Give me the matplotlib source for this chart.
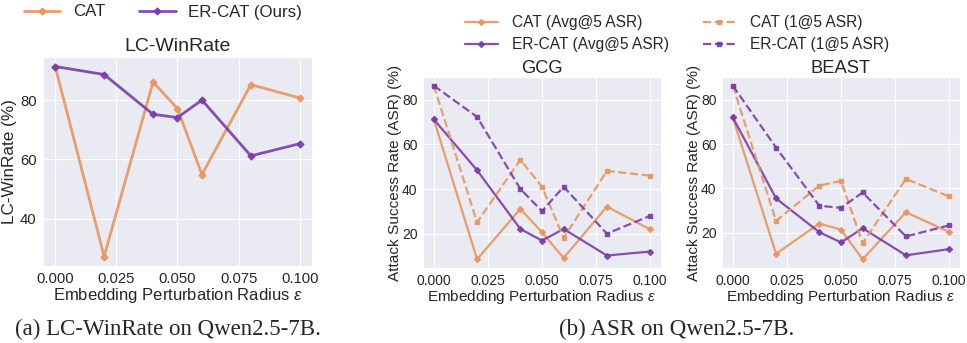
import matplotlib.pyplot as plt
import seaborn as sns

sns.set_style('darkgrid')
plt.rcParams['font.family'] = ['Liberation Sans', 'DejaVu Sans']
plt.rcParams['mathtext.fontset'] = 'custom'
plt.rcParams['mathtext.it'] = 'Liberation Sans:italic'
plt.rcParams['mathtext.rm'] = 'Liberation Sans'

radius = [0.0, 0.02, 0.04, 0.05, 0.06, 0.08, 0.1]
xticks = [0.0, 0.025, 0.05, 0.075, 0.1]
xticklabels = ['0.000', '0.025', '0.050', '0.075', '0.100']

# LC-WinRate
winrate_cat = [91.3, 27.3, 86.1, 77.1, 54.9, 85.2, 80.7]
winrate_ercat = [91.3, 88.6, 75.2, 74.1, 80.0, 61.2, 65.3]

# GCG
gcg_cat_avg = [71.2, 8.5, 31.1, 20.6, 9.1, 32.1, 21.9]
gcg_cat_1at5 = [86.3, 25.1, 53.1, 41.0, 18.1, 48.1, 46.0]
gcg_ercat_avg = [71.2, 48.4, 22.1, 16.9, 22.1, 10.2, 12.0]
gcg_ercat_1at5 = [86.3, 72.3, 40.0, 30.1, 41.0, 20.0, 28.0]

# BEAST
beast_cat_avg = [72.0, 10.6, 24.2, 21.5, 8.1, 29.3, 20.4]
beast_cat_1at5 = [86.3, 25.4, 41.3, 43.4, 15.4, 44.3, 36.4]
beast_ercat_avg = [72.0, 35.5, 20.3, 15.7, 22.1, 9.9, 12.7]
beast_ercat_1at5 = [86.3, 58.4, 32.2, 31.3, 38.2, 18.4, 23.4]

orange = '#E8955E'
purple = '#7A3DA8'

fig = plt.figure(figsize=(9.67, 3.43), dpi=100)
W, H = 967, 343
def box(l, t, r, b):
    return [l / W, 1 - b / H, (r - l) / W, (b - t) / H]

ax1 = fig.add_axes(box(43, 57, 312, 266))
ax2 = fig.add_axes(box(423, 77, 661, 268))
ax3 = fig.add_axes(box(722, 77, 960, 268))

xlab = r'Embedding Perturbation Radius $\varepsilon$'

ax1.plot(radius, winrate_cat, color=orange, marker='D', markersize=3.5, lw=2, alpha=0.9, label='CAT')
ax1.plot(radius, winrate_ercat, color=purple, marker='D', markersize=3.5, lw=2, alpha=0.9, label='ER-CAT (Ours)')
ax1.set_title('LC-WinRate', fontsize=14, pad=4)
ax1.set_ylabel('LC-WinRate (%)', fontsize=12.3, labelpad=2)
ax1.set_xlabel(xlab, fontsize=12, labelpad=0)
ax1.set_yticks([40, 60, 80])
ax1.set_xticks(xticks, xticklabels)
ax1.tick_params(labelsize=10.7, pad=1)
fig.legend(*ax1.get_legend_handles_labels(), loc='center', bbox_to_anchor=(163 / W, 1 - 12 / H),
           ncol=2, frameon=False, fontsize=12.2, handlelength=2.15, handletextpad=0.75,
           columnspacing=2.0)

for ax, title, ca, c1, ea, e1 in [
        (ax2, 'GCG', gcg_cat_avg, gcg_cat_1at5, gcg_ercat_avg, gcg_ercat_1at5),
        (ax3, 'BEAST', beast_cat_avg, beast_cat_1at5, beast_ercat_avg, beast_ercat_1at5)]:
    ax.plot(radius, ca, color=orange, marker='D', markersize=3, lw=1.6, alpha=0.9, label='CAT (Avg@5 ASR)')
    ax.plot(radius, ea, color=purple, marker='D', markersize=3, lw=1.6, alpha=0.9, label='ER-CAT (Avg@5 ASR)')
    ax.plot(radius, c1, color=orange, marker='s', markersize=3, lw=1.6, ls='--', alpha=0.9, label='CAT (1@5 ASR)')
    ax.plot(radius, e1, color=purple, marker='s', markersize=3, lw=1.6, ls='--', alpha=0.9, label='ER-CAT (1@5 ASR)')
    ax.set_title(title, fontsize=13.2, pad=3)
    ax.set_ylabel('Attack Success Rate (ASR) (%)', fontsize=11.1, labelpad=0)
    ax.set_xlabel(xlab, fontsize=11, labelpad=0)
    ax.set_yticks([20, 40, 60, 80])
    ax.set_xticks(xticks, xticklabels)
    ax.tick_params(labelsize=10, pad=0.5)

h, l = ax2.get_legend_handles_labels()
fig.legend(h, l, loc='center', bbox_to_anchor=(677 / W, 1 - 34 / H), ncol=2, frameon=False,
           fontsize=11.2, handlelength=2.1, handletextpad=0.9, columnspacing=2.2, labelspacing=0.45)

fig.text(168 / W, 1 - 329 / H, '(a) LC-WinRate on Qwen2.5-7B.', ha='center', va='center',
         fontsize=16.5, family='Liberation Serif')
fig.text(677 / W, 1 - 329 / H, '(b) ASR on Qwen2.5-7B.', ha='center', va='center',
         fontsize=16.7, family='Liberation Serif')

fig.savefig('out.png', dpi=100)
